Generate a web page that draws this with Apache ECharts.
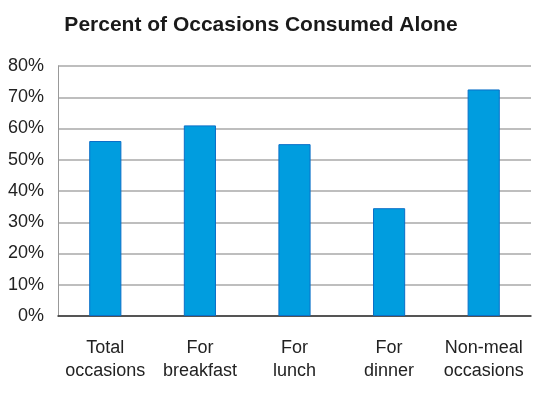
<!DOCTYPE html>
<html><head><meta charset="utf-8">
<script src="https://cdn.jsdelivr.net/npm/echarts@6/dist/echarts.min.js"></script>
<style>html,body{margin:0;padding:0;background:#fff}#c{width:535px;height:393px}</style>
</head><body><div id="c"></div>
<script>
const categories = ['Total\noccasions', 'For\nbreakfast', 'For\nlunch', 'For\ndinner', 'Non-meal\noccasions'];
const values = [56, 61, 55, 34.5, 72.5];
const yTicks = [0, 10, 20, 30, 40, 50, 60, 70, 80];
const chart = echarts.init(document.getElementById('c'));
chart.setOption({
  animation: false,
  title: {
    text: 'Percent of Occasions Consumed Alone',
    left: 256, top: 10, textAlign: 'center',
    textStyle: {fontFamily: 'Liberation Sans', fontSize: 21, fontWeight: 'bold', color: '#1a1a1a'}
  },
  grid: {left: 58, right: 4, top: 66, bottom: 77},
  xAxis: {
    type: 'category', data: categories,
    axisLine: {lineStyle: {color: '#333', width: 1.5}},
    axisTick: {show: false},
    axisLabel: {interval: 0, hideOverlap: false, fontFamily: 'Liberation Sans', fontSize: 18, color: '#222', margin: 21, lineHeight: 23}
  },
  yAxis: {
    type: 'value', min: yTicks[0], max: yTicks[yTicks.length - 1], interval: 10,
    axisLine: {show: true, lineStyle: {color: '#999', width: 1}},
    axisTick: {show: false},
    splitLine: {lineStyle: {color: '#a8a8a8', width: 1.5}},
    axisLabel: {fontFamily: 'Liberation Sans', fontSize: 18, color: '#222', margin: 14, formatter: '{value}%'}
  },
  series: [{
    type: 'bar', data: values, barWidth: '34%',
    itemStyle: {color: '#009ddf', borderColor: '#0a6fc8', borderWidth: 1}
  }]
});
</script></body></html>
